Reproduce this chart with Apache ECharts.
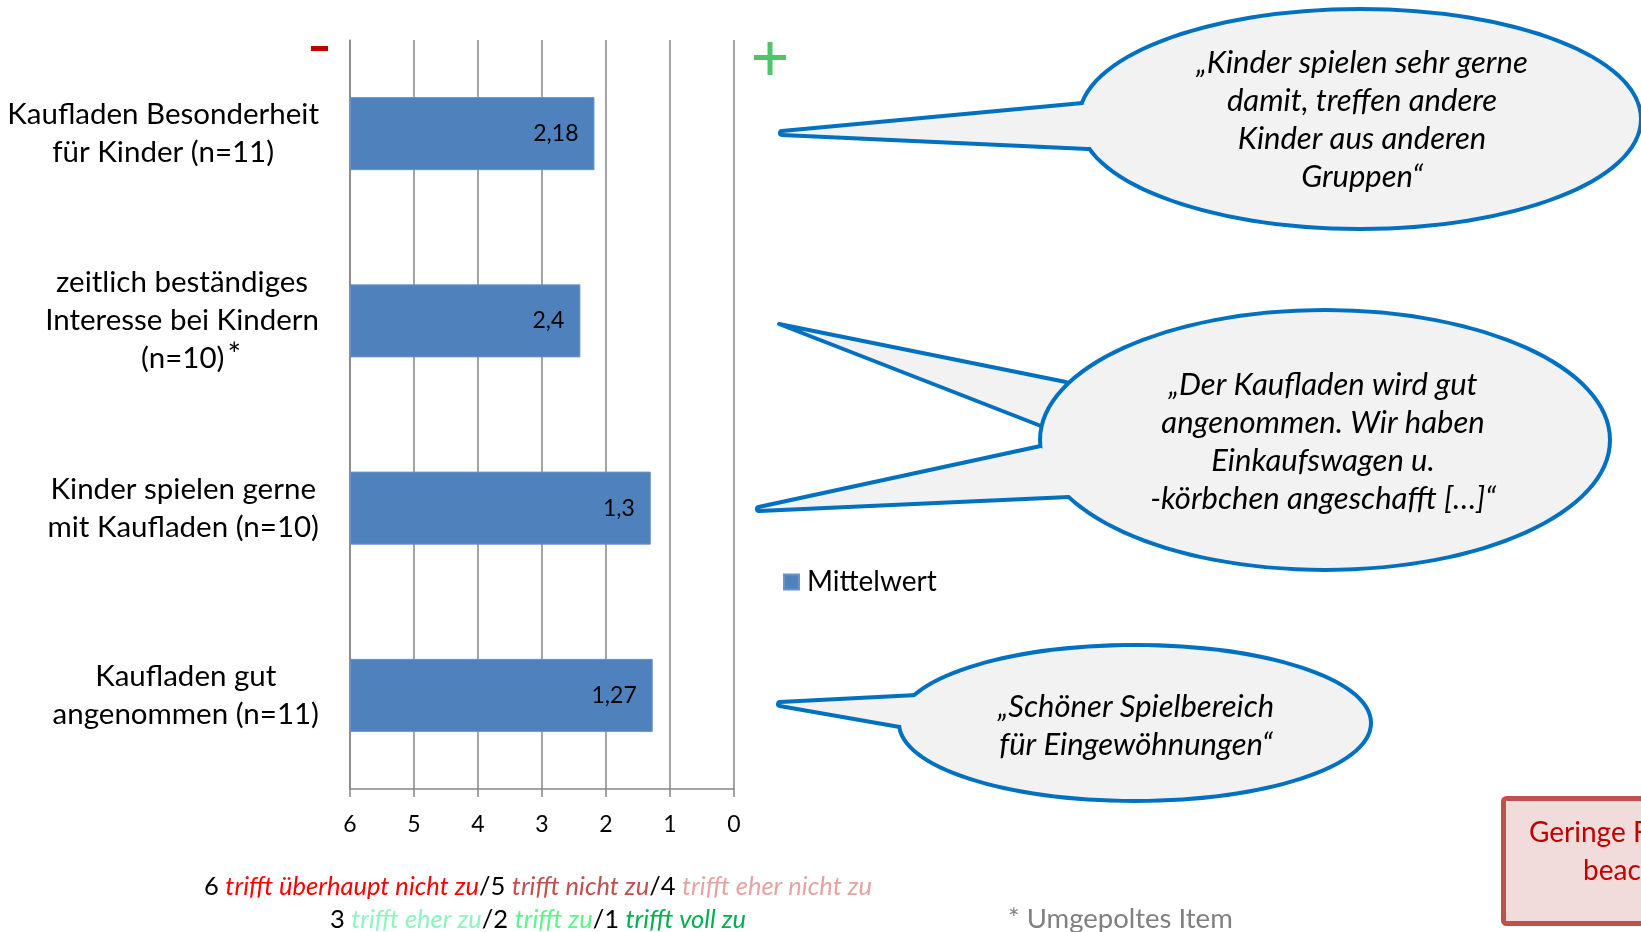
<!DOCTYPE html>
<html><head><meta charset="utf-8">
<script src="https://cdn.jsdelivr.net/npm/echarts@6/dist/echarts.min.js"></script>
<style>html,body{margin:0;padding:0;background:#fff}#c{width:1641px;height:932px}</style>
</head><body><div id="c"></div>
<script>
// ---- data ----
const categories = [
  'Kaufladen Besonderheit\nfür Kinder (n=11)',
  'zeitlich beständiges\nInteresse bei Kindern\n(n=10)*',
  'Kinder spielen gerne\nmit Kaufladen (n=10)',
  'Kaufladen gut\nangenommen (n=11)'
];
const meanValues = [2.18, 2.4, 1.3, 1.27];
const seriesName = 'Mittelwert';
const scaleMax = 6;   // 6 = trifft überhaupt nicht zu ... 1 = trifft voll zu
const scaleMin = 0;

const quotes = [
  '„Kinder spielen sehr gerne\ndamit, treffen andere\nKinder aus anderen\nGruppen“',
  '„Der Kaufladen wird gut\nangenommen. Wir haben\nEinkaufswagen u.\n-körbchen angeschafft […]“',
  '„Schöner Spielbereich\nfür Eingewöhnungen“'
];

const FONT = 'Lato, "Open Sans", sans-serif';
const BLUE = '#0070C0', BFILL = '#F2F2F2';

function fmt(v){ return String(v).replace('.', ','); }

// axis runs from 6 (left) to 0 (right); bars start at 6
const plotted = meanValues.map(v => scaleMax - v);

function catLabel(s){
  return s.split('\n').map(line => {
    if (line.endsWith('*')) return '{n|' + line.slice(0,-1) + '}{s|*}';
    return '{c|' + line + '}';
  }).join('\n');
}

// speech bubble helpers (decoration)
function ell(cx, cy, rx, ry, style, z){ return {type:'ellipse', shape:{cx, cy, rx, ry}, style, z, silent:true}; }
function poly(points, style, z){ return {type:'polygon', shape:{points}, style, z, silent:true}; }
function qtext(text, x, y, z){
  return {type:'text', z, silent:true, style:{text, x, y, fill:'#000', fontSize:31, fontStyle:'italic',
    fontFamily:FONT, lineHeight:38, align:'center', verticalAlign:'middle', textAlign:'center', textVerticalAlign:'middle'}};
}
const strokeS = {fill:'none', stroke:BLUE, lineWidth:8, lineJoin:'round'};
const fillS = {fill:BFILL, stroke:null, lineWidth:0};

const E1 = [1360, 119, 279, 108];
const T1 = [[782,133],[1083,105],[1130,110],[1130,145],[1088,147]];
const E2 = [1325, 440, 283, 128];
const T2a = [[779,324],[1066,382],[1110,400],[1110,420],[1041,426]];
const T2b = [[759,509],[1041,448],[1090,460],[1090,485],[1069,495]];
const E3 = [1135, 723, 234, 76];
const T3 = [[780,704],[917,697],[960,705],[960,720],[900,725]];

const capStyle = c => ({fill:c, fontStyle:'italic', fontSize:25.5, fontFamily:FONT, lineHeight:33, align:'center'});

const graphics = [
  // -/+ markers
  {type:'rect', shape:{x:311, y:46, width:17, height:5}, style:{fill:'#C00000'}, z:10},
  {type:'rect', shape:{x:754, y:55, width:32, height:5}, style:{fill:'#50C468'}, z:10},
  {type:'rect', shape:{x:767.5, y:42, width:5, height:33}, style:{fill:'#50C468'}, z:10},
  // bubble 1
  ell(...E1, strokeS, 20), poly(T1, strokeS, 20),
  ell(...E1, fillS, 21), poly(T1, fillS, 21),
  qtext(quotes[0], 1362, 120, 22),
  // bubble 2
  poly(T2a, {fill:BFILL, stroke:BLUE, lineWidth:4, lineJoin:'round'}, 19),
  ell(...E2, strokeS, 20), poly(T2b, strokeS, 20),
  ell(...E2, fillS, 21), poly(T2b, fillS, 21),
  qtext(quotes[1], 1323, 442, 22),
  // bubble 3
  ell(...E3, strokeS, 20), poly(T3, strokeS, 20),
  ell(...E3, fillS, 21), poly(T3, fillS, 21),
  qtext(quotes[2], 1136, 726, 22),
  // note box
  {type:'rect', shape:{x:1503.5, y:798.5, width:300, height:125, r:3}, style:{fill:'#F2DCDB', stroke:'#C0504D', lineWidth:5}, z:10},
  {type:'text', z:11, style:{text:'Geringe Fallzahl', x:1529, y:833, fill:'#C00000', fontSize:28, fontFamily:FONT,
    align:'left', verticalAlign:'middle', textAlign:'left', textVerticalAlign:'middle'}},
  {type:'text', z:11, style:{text:'beachten!', x:1583, y:871, fill:'#C00000', fontSize:28, fontFamily:FONT,
    align:'left', verticalAlign:'middle', textAlign:'left', textVerticalAlign:'middle'}},
  // scale legend
  {type:'text', z:10, style:{
    text:'6 {r|trifft überhaupt nicht zu}/5 {b|trifft nicht zu}/4 {p|trifft eher nicht zu}\n3 {m|trifft eher zu}/2 {g|trifft zu}/1 {d|trifft voll zu}',
    x:538, y:903, fill:'#000', fontSize:25.5, fontFamily:FONT, lineHeight:33,
    align:'center', verticalAlign:'middle', textAlign:'center', textVerticalAlign:'middle',
    rich:{
      r:capStyle('#FF0000'), b:capStyle('#C0504D'), p:capStyle('#E6A3A3'),
      m:capStyle('#8CF5C0'), g:capStyle('#5CF58A'), d:capStyle('#00B050')
    }}},
  {type:'text', z:10, style:{text:'* Umgepoltes Item', x:1008, y:919, fill:'#808080', fontSize:27.5, fontFamily:FONT,
    align:'left', verticalAlign:'middle', textAlign:'left', textVerticalAlign:'middle'}}
];

const chart = echarts.init(document.getElementById('c'), null, {renderer:'canvas'});
chart.setOption({
  backgroundColor:'#fff',
  animation:false,
  textStyle:{fontFamily:FONT},
  grid:{left:350, right:907, top:40, bottom:143, containLabel:false},
  legend:{
    data:[seriesName], left:778, top:563, icon:'rect', itemWidth:15, itemHeight:15, itemGap:10,
    textStyle:{fontSize:28, color:'#000', fontFamily:FONT, padding:[0,0,0,3]}
  },
  xAxis:{
    type:'value', min:scaleMin, max:scaleMax, interval:1,
    axisLine:{show:true, lineStyle:{color:'#868686', width:1.5}},
    axisTick:{show:true, length:8, lineStyle:{color:'#868686', width:1.5}},
    axisLabel:{formatter:v => String(scaleMax - v), fontSize:23, color:'#000', margin:24, fontFamily:FONT},
    splitLine:{show:true, lineStyle:{color:'#868686', width:1.5}}
  },
  yAxis:{
    type:'category', data:categories, inverse:true,
    axisLine:{show:true, lineStyle:{color:'#868686', width:1.5}},
    axisTick:{show:false},
    axisLabel:{
      formatter:catLabel, margin:31, color:'#000', fontSize:29.5, fontFamily:FONT, lineHeight:38,
      rich:{
        c:{align:'center', fontSize:29.5, fontFamily:FONT, lineHeight:38, color:'#000'},
        n:{align:'center', fontSize:29.5, fontFamily:FONT, lineHeight:38, color:'#000', padding:[0,0,0,18]},
        s:{align:'center', fontSize:32, fontFamily:FONT, lineHeight:30, color:'#000', verticalAlign:'top', padding:[0,0,0,3]}
      }
    }
  },
  series:[{
    name:seriesName, type:'bar', data:plotted, barCategoryGap:'61%',
    itemStyle:{color:'#4F81BD', borderColor:'#6A93C8', borderWidth:1},
    label:{show:true, position:'insideRight', distance:16, fontSize:23, color:'#000', fontFamily:FONT,
      formatter:p => fmt(meanValues[p.dataIndex])}
  }],
  graphic:graphics
});
</script></body></html>
